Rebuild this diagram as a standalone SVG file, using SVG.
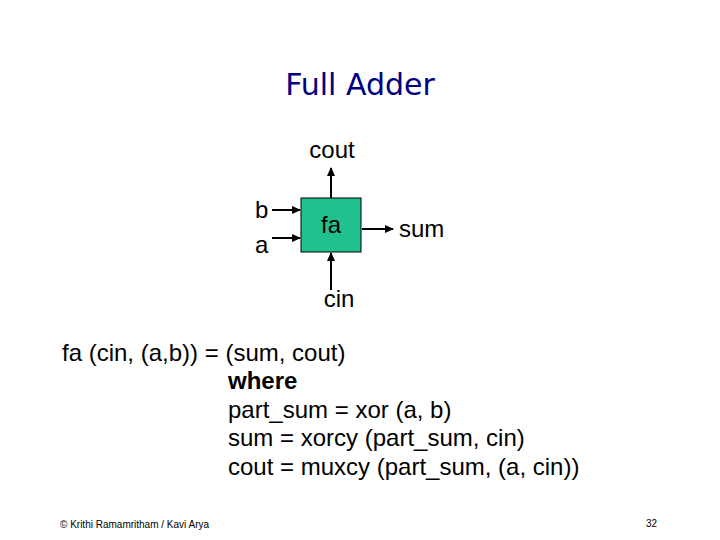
<svg xmlns="http://www.w3.org/2000/svg" width="720" height="540" viewBox="0 0 720 540">
<style>
.t{font-family:"Liberation Sans",Arial,sans-serif;font-size:24px;fill:#000}
.w{stroke:#000;stroke-width:2;fill:none}
</style>
<defs>
<marker id="ah" markerWidth="9" markerHeight="8" refX="8" refY="4" orient="auto" markerUnits="userSpaceOnUse">
<path d="M0,0 L9,4 L0,8 Z" fill="#000"/>
</marker>
</defs>
<rect width="720" height="540" fill="#fff"/>
<text x="360" y="95" text-anchor="middle" style="font-family:'DejaVu Sans',sans-serif;font-size:30px;fill:#000080">Full Adder</text>
<g id="connectors">
<line class="w" x1="331" y1="198" x2="331" y2="168" marker-end="url(#ah)"/>
<line class="w" x1="272" y1="210" x2="300" y2="210" marker-end="url(#ah)"/>
<line class="w" x1="272" y1="238" x2="300" y2="238" marker-end="url(#ah)"/>
<line class="w" x1="362" y1="229" x2="393" y2="229" marker-end="url(#ah)"/>
<line class="w" x1="331" y1="290" x2="331" y2="253" marker-end="url(#ah)"/>
</g>
<g id="fa">
<rect x="301" y="198" width="60" height="54" fill="#21C08F" stroke="#000" stroke-width="1"/>
<text class="t" x="331" y="233" text-anchor="middle">fa</text>
</g>
<g id="cout"><text class="t" x="332" y="158" text-anchor="middle">cout</text></g>
<g id="b"><text class="t" x="255" y="218">b</text></g>
<g id="a"><text class="t" x="255" y="253">a</text></g>
<g id="sum"><text class="t" x="399" y="237">sum</text></g>
<g id="cin"><text class="t" x="339" y="307" text-anchor="middle">cin</text></g>
<text class="t" x="62" y="361">fa (cin, (a,b)) = (sum, cout)</text>
<text class="t" x="228" y="389" font-weight="bold">where</text>
<text class="t" x="228" y="418">part_sum = xor (a, b)</text>
<text class="t" x="228" y="446">sum = xorcy (part_sum, cin)</text>
<text class="t" x="228" y="475">cout = muxcy (part_sum, (a, cin))</text>
<text x="60" y="528" style="font-family:'Liberation Sans',Arial,sans-serif;font-size:10px;fill:#000">© Krithi Ramamritham / Kavi Arya</text>
<text x="646" y="527" style="font-family:'Liberation Sans',Arial,sans-serif;font-size:10px;fill:#000">32</text>
</svg>
